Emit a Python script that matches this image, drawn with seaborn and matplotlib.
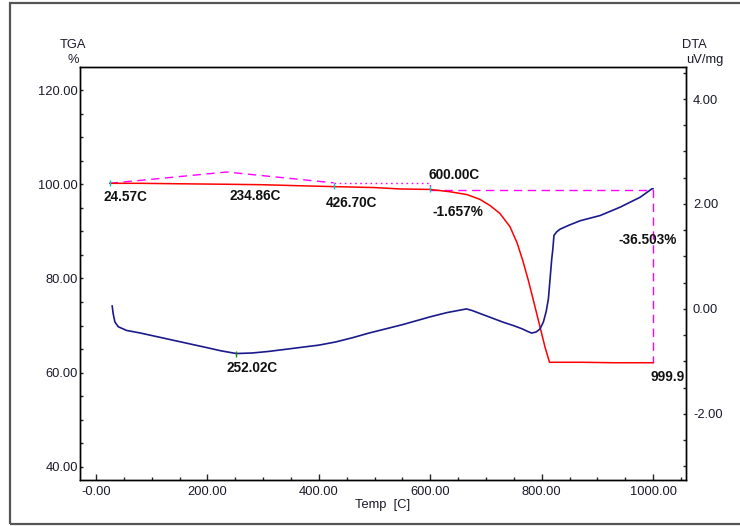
import numpy as np
import pandas as pd
import matplotlib
matplotlib.use("Agg")
import matplotlib.pyplot as plt
from matplotlib.patches import Rectangle
from matplotlib.ticker import MultipleLocator, FixedLocator
import seaborn as sns

# ---------------- data ----------------
tga_temp = [24.57, 80, 150, 234.86, 300, 360, 426.70, 500, 546, 600, 636, 666, 689, 707,
            725, 743, 756, 766, 776, 785, 797, 806, 814, 870, 930, 999.9]
tga_val = [100.2, 100.2, 100.1, 100.0, 99.9, 99.7, 99.5, 99.3, 99.0, 98.9, 98.4, 97.8, 96.8, 95.5,
           93.8, 91.0, 87.5, 83.8, 79.6, 75.4, 69.7, 65.4, 62.2, 62.2, 62.1, 62.1]

dta_temp = [29, 31, 34, 40, 55, 80, 110, 140, 170, 200, 225, 252.02, 280, 310, 340, 370, 400,
            430, 460, 490, 520, 550, 580, 600, 630, 655, 665, 675, 690, 710, 730, 750, 765, 775,
            782, 790, 797, 803, 808, 812, 815, 818, 820, 822, 827, 833, 850, 869, 905, 941, 977,
            998, 1000]
dta_val = [0.06, -0.1, -0.25, -0.34, -0.41, -0.46, -0.53, -0.60, -0.67, -0.74, -0.80, -0.85,
           -0.84, -0.81, -0.77, -0.73, -0.69, -0.63, -0.55, -0.46, -0.38, -0.30, -0.21, -0.15,
           -0.07, -0.02, 0.0, -0.03, -0.09, -0.17, -0.25, -0.32, -0.38, -0.43, -0.46, -0.44,
           -0.38, -0.25, -0.05, 0.19, 0.57, 0.95, 1.14, 1.40, 1.47, 1.52, 1.60, 1.68, 1.78, 1.94,
           2.13, 2.29, 2.29]

# magenta construction lines (TGA scale)
peak_temp = [24.57, 234.86, 426.70]
peak_val = [100.2, 102.6, 100.3]
dot_temp = [426.70, 600.0, 600.0]
dot_val = [100.3, 100.3, 98.9]
step_temp = [600.0, 999.9, 999.9]
step_val = [98.7, 98.7, 62.1]

marker_temp = [24.57, 426.70, 600.0]
marker_val = [100.2, 99.6, 98.9]

x_ticks = [0, 200, 400, 600, 800, 1000]
x_tick_labels = ["-0.00", "200.00", "400.00", "600.00", "800.00", "1000.00"]
tga_ticks = [40, 60, 80, 100, 120]
dta_ticks = [-2, 0, 2, 4]

annotations = [
    ("24.57C", 53.5, 97.2),
    ("234.86C", 285.0, 97.45),
    ("426.70C", 459.0, 96.0),
    ("600.00C", 643.0, 101.9),
    ("-1.657%", 650.0, 94.2),
    ("-36.503%", 991.0, 88.1),
    ("252.02C", 281.0, 61.0),
]

# ---------------- style ----------------
sns.set_style("white")
plt.rcParams['font.family'] = ['Liberation Sans', 'DejaVu Sans']

W, H = 740, 526
fig = plt.figure(figsize=(W / 100, H / 100), dpi=100)

L, R, T, B = 80, 686, 67, 480
ax = fig.add_axes([L / W, 1 - B / H, (R - L) / W, (B - T) / H])
ax2 = ax.twinx()

df_tga = pd.DataFrame({"Temp": tga_temp, "TGA": tga_val})
df_dta = pd.DataFrame({"Temp": dta_temp, "DTA": dta_val})

sns.lineplot(data=df_tga, x="Temp", y="TGA", ax=ax, color="#ff0000", lw=1.1,
             sort=False, estimator=None, zorder=3)
sns.lineplot(data=df_dta, x="Temp", y="DTA", ax=ax2, color="#1a1a8c", lw=1.2,
             sort=False, estimator=None, zorder=3)

ax.plot(peak_temp, peak_val, color="#ff00ff", lw=1.0, dashes=(6, 4), zorder=2)
ax.plot(dot_temp, dot_val, color="#ff00ff", lw=1.0, dashes=(1.2, 2.5), zorder=2)
ax.plot(step_temp, step_val, color="#ff00ff", lw=1.0, dashes=(6, 4), zorder=2)
ax.plot(marker_temp, marker_val, ls="none", marker="|", ms=5, mew=1.0, color="#00c8c8", zorder=4)
ax2.plot([252.02], [-0.85], ls="none", marker="|", ms=5, mew=1.0, color="#208020", zorder=4)

ax.set_xlim(-28.7, 1059)
ax.set_ylim(37.2, 124.9)
ax2.set_ylim(-3.26, 4.61)

ax.xaxis.set_major_locator(FixedLocator(x_ticks))
ax.set_xticklabels(x_tick_labels)
ax.xaxis.set_minor_locator(MultipleLocator(50))
ax.yaxis.set_major_locator(FixedLocator(tga_ticks))
ax.set_yticklabels([f"{v:.2f}" for v in tga_ticks])
ax.yaxis.set_minor_locator(MultipleLocator(5))
ax2.yaxis.set_major_locator(FixedLocator(dta_ticks))
ax2.set_yticklabels([f"{v:.2f}" for v in dta_ticks])
ax2.yaxis.set_minor_locator(MultipleLocator(0.5))

tick_col = "#1a1a2a"
ax.tick_params(axis="x", which="major", direction="in", length=4, width=1, pad=4.5,
               labelsize=9.3, labelcolor=tick_col, bottom=True, top=False)
ax.tick_params(axis="x", which="minor", direction="in", length=2.5, width=1, bottom=True, top=False)
ax.tick_params(axis="y", which="major", direction="in", length=2.5, width=1, pad=1.5,
               labelsize=9.3, labelcolor=tick_col, left=True)
ax.tick_params(axis="y", which="minor", direction="in", length=2, width=1, left=True)
ax2.tick_params(axis="y", which="major", direction="in", length=2.5, width=1, pad=5,
                labelsize=9.3, labelcolor=tick_col, right=True)
ax2.tick_params(axis="y", which="minor", direction="in", length=2, width=1, right=True)

for a in (ax, ax2):
    for s in a.spines.values():
        s.set_color("black")
        s.set_linewidth(1.0)
        s.set_visible(True)

ax.set_xlabel("")
ax.set_ylabel("")
ax2.set_ylabel("")

for txt, x, y in annotations:
    ax.text(x, y, txt, ha="center", va="center", fontsize=9.8, fontweight="bold",
            color="#111111", zorder=5)
ax.text(995, 59.1, "999.9", ha="left", va="center", fontsize=9.8, fontweight="bold",
        color="#111111", clip_on=True, zorder=5)

def ftext(px, py, s, **kw):
    fig.text(px / W, 1 - py / H, s, ha="center", va="center", fontsize=9.3,
             color=tick_col, **kw)

ftext(72.5, 45, "TGA")
ftext(73, 60, "%")
ftext(694, 45, "DTA")
ftext(704.5, 60.5, "uV/mg")
ftext(382.5, 505, "Temp  [C]")

fig.patches.append(Rectangle((10 / W, 1 - 524 / H), 800 / W, (524 - 3) / H,
                             transform=fig.transFigure, fill=False,
                             edgecolor="#555555", lw=1.6, zorder=0))

fig.savefig("out.png", dpi=100)
